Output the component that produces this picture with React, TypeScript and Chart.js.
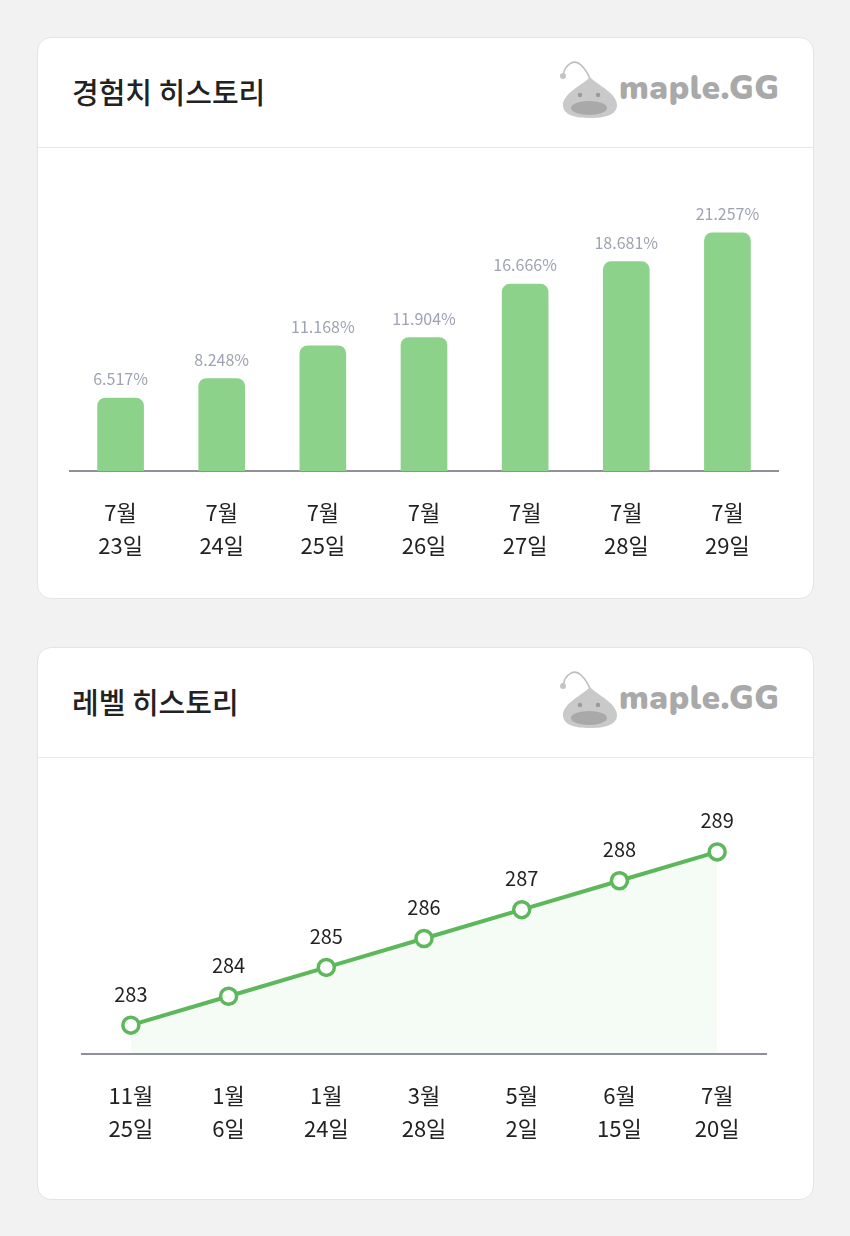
import React, { useEffect, useRef } from "react";
import { Chart, registerables } from "chart.js";
Chart.register(...registerables);

const expDates: string[][] = [["7월", "23일"], ["7월", "24일"], ["7월", "25일"], ["7월", "26일"], ["7월", "27일"], ["7월", "28일"], ["7월", "29일"]];
const expValues: number[] = [6.517, 8.248, 11.168, 11.904, 16.666, 18.681, 21.257];
const levelDates: string[][] = [["11월", "25일"], ["1월", "6일"], ["1월", "24일"], ["3월", "28일"], ["5월", "2일"], ["6월", "15일"], ["7월", "20일"]];
const levelValues: number[] = [283, 284, 285, 286, 287, 288, 289];

const FONT = '"Noto Sans CJK KR", "Noto Sans", sans-serif';

function valueLabels(fmt: (v: number) => string, color: string, font: string, offset: number) {
  return {
    id: "valueLabels",
    afterDatasetsDraw(chart: any) {
      const ctx = chart.ctx;
      const meta = chart.getDatasetMeta(0);
      ctx.save();
      ctx.font = font;
      ctx.fillStyle = color;
      ctx.textAlign = "center";
      ctx.textBaseline = "middle";
      meta.data.forEach((el: any, i: number) => {
        const v = chart.data.datasets[0].data[i] as number;
        ctx.fillText(fmt(v), el.x, el.y - offset);
      });
      ctx.restore();
    },
  };
}

const xAxis = () => ({
  grid: { display: true, drawOnChartArea: false, drawTicks: false, color: "transparent" },
  border: { display: true, color: "#8e909a", width: 2 },
  ticks: {
    color: "#222",
    padding: 25,
    font: { family: FONT, size: 22, lineHeight: 1.5 },
    maxRotation: 0,
    autoSkip: false,
  },
});

function ExpChart() {
  const ref = useRef<HTMLCanvasElement>(null);
  useEffect(() => {
    const chart = new Chart(ref.current!, {
      type: "bar",
      data: {
        labels: expDates as any,
        datasets: [
          {
            data: expValues,
            backgroundColor: "#8dd28b",
            borderRadius: 8,
            borderSkipped: "bottom",
            barThickness: 46,
          },
        ],
      },
      options: {
        animation: false,
        responsive: true,
        maintainAspectRatio: false,
        layout: { padding: { left: 32, right: 35, top: 54, bottom: 11 } },
        plugins: { legend: { display: false }, tooltip: { enabled: false } },
        scales: {
          x: xAxis() as any,
          y: { display: false, min: 0, max: 24 },
        },
      },
      plugins: [valueLabels((v) => v.toFixed(3) + "%", "#9ea2b2", `400 16px ${FONT}`, 19)],
    });
    return () => chart.destroy();
  }, []);
  return <canvas ref={ref} />;
}

function LevelChart() {
  const ref = useRef<HTMLCanvasElement>(null);
  useEffect(() => {
    const chart = new Chart(ref.current!, {
      type: "line",
      data: {
        labels: levelDates as any,
        datasets: [
          {
            data: levelValues,
            borderColor: "#5cb85a",
            borderWidth: 4,
            backgroundColor: "rgba(92,184,90,0.06)",
            fill: "start",
            tension: 0,
            pointRadius: 8,
            pointBorderWidth: 3.5,
            pointBackgroundColor: "#ffffff",
            pointBorderColor: "#5cb85a",
          },
        ],
      },
      options: {
        animation: false,
        responsive: true,
        maintainAspectRatio: false,
        layout: { padding: { left: 44, right: 47, top: 66, bottom: 29 } },
        plugins: { legend: { display: false }, tooltip: { enabled: false } },
        scales: {
          x: { ...(xAxis() as any), offset: true },
          y: { display: false, min: 282, max: 290 },
        },
      },
      plugins: [valueLabels((v) => String(v), "#222", `400 20px ${FONT}`, 31)],
    });
    return () => chart.destroy();
  }, []);
  return <canvas ref={ref} />;
}

function Logo({ top }: { top: number }) {
  return (
    <div style={{ position: "absolute", left: 555, top, width: 240, height: 70 }}>
      <svg width="70" height="70" viewBox="0 0 70 70" style={{ position: "absolute", left: 0, top: 0 }}>
        <path d="M8 21 C 10 8, 20 4, 26 10 C 30 14, 33 18, 35 24" fill="none" stroke="#bdbdbd" strokeWidth="1.6" />
        <circle cx="8" cy="21" r="3" fill="#c4c4c4" />
        <path d="M35 22 C 28 30, 8 38, 8 50 C 8 60, 20 63, 35 63 C 50 63, 62 60, 62 50 C 62 38, 42 30, 35 22 Z" fill="#c9c9c9" />
        <circle cx="25" cy="40" r="2.2" fill="#9a9a9a" />
        <circle cx="43" cy="40" r="2.2" fill="#9a9a9a" />
        <ellipse cx="34" cy="53" rx="18" ry="7" fill="#a9a9a9" />
      </svg>
      <div
        style={{
          position: "absolute",
          left: 64,
          top: 14,
          fontFamily: '"Nunito", "Lato", "Noto Sans", sans-serif',
          fontWeight: 900,
          fontSize: 33,
          lineHeight: "40px",
          color: "#a9a9a9",
          letterSpacing: 0.6,
          whiteSpace: "nowrap",
        }}
      >
        maple.GG
      </div>
    </div>
  );
}

function Card({ top, height, title, children }: any) {
  return (
    <div
      style={{
        position: "absolute",
        left: 37,
        top,
        width: 777,
        height,
        boxSizing: "border-box",
        background: "#fff",
        border: "1px solid #e4e4e4",
        borderRadius: 14,
      }}
    >
      <div
        style={{
          position: "absolute",
          left: 34,
          top: 33,
          fontFamily: FONT,
          fontWeight: 500,
          fontSize: 29,
          lineHeight: "40px",
          color: "#222",
          whiteSpace: "nowrap",
        }}
      >
        {title}
      </div>
      <div style={{ position: "absolute", left: 0, right: 0, top: 109, height: 1, background: "#e8e8e8" }} />
      {children}
    </div>
  );
}

export default function App() {
  return (
    <div style={{ position: "absolute", left: 0, top: 0, width: 850, height: 1236, background: "#f2f2f2", overflow: "hidden" }}>
      <Card top={37} height={562} title="경험치 히스토리">
        <div style={{ position: "absolute", left: 0, top: 110, width: 775, height: 450 }}>
          <ExpChart />
        </div>
      </Card>
      <Logo top={55} />
      <Card top={647} height={553} title="레벨 히스토리">
        <div style={{ position: "absolute", left: 0, top: 109, width: 775, height: 442 }}>
          <LevelChart />
        </div>
      </Card>
      <Logo top={665} />
    </div>
  );
}
